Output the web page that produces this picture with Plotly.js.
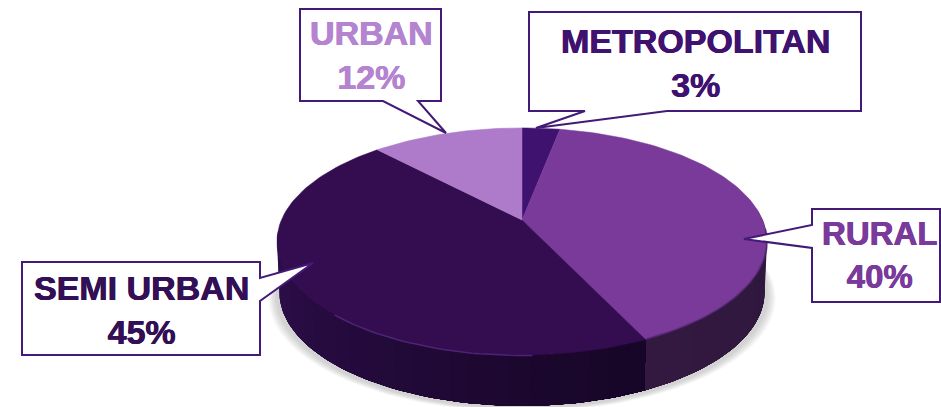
<!DOCTYPE html>
<html>
<head>
<meta charset="utf-8">
<script src="https://cdn.plot.ly/plotly-3.0.1.min.js"></script>
<style>html,body{margin:0;padding:0;background:#fff;overflow:hidden}#chart{width:941px;height:407px}</style>
</head>
<body>
<div id="chart"></div>
<script>
// Data (clockwise from 12 o'clock)
const categories = ['METROPOLITAN', 'RURAL', 'SEMI URBAN', 'URBAN'];
const shares = [3, 40, 45, 12];
const topColors = ['#3f1270', '#7a3a9a', '#330d50', '#ae7bca'];
const textColors = ['#3f1270', '#7a3a9c', '#330f55', '#b584d0'];
const sideFrom = ['#3f1270', '#2e163e', '#2e0e4c', '#8a5aa5'];
const sideTo = ['#3f1270', '#33193f', '#170627', '#8a5aa5'];

// Tilted-disc projection used to place every slice on the hidden axes
const cx = 522, cy = 220, A = 109.5, B = 240.6, k = 0.189, depth = 52;
function project(deg, grow, dy) {
  const t = deg * Math.PI / 180, u = Math.sin(t), v = Math.cos(t), w = 1 + k * v;
  const g = grow || 1;
  return [cx + g * B * u / w, cy - A * v / w + (g - 1) * 113 + (dy || 0)];
}
function arc(a0, a1, grow, dy) {
  const n = Math.max(2, Math.ceil(Math.abs(a1 - a0) / 1.5));
  const p = [];
  for (let i = 0; i <= n; i++) p.push(project(a0 + (a1 - a0) * i / n, grow, dy));
  return p;
}
function poly(points, fill, lineColor, lineWidth) {
  return {
    type: 'scatter', mode: 'lines', fill: 'toself', fillcolor: fill,
    x: points.map(p => p[0]), y: points.map(p => p[1]),
    line: {color: lineColor || fill, width: lineWidth === undefined ? 0.6 : lineWidth},
    hoverinfo: 'skip', showlegend: false
  };
}
function mix(c1, c2, f) {
  const h = c => [1, 3, 5].map(i => parseInt(c.substr(i, 2), 16));
  const a = h(c1), b = h(c2);
  return 'rgb(' + a.map((x, i) => Math.round(x + (b[i] - x) * f)).join(',') + ')';
}

const traces = [];

// Soft ground shadow
for (let i = 0; i < 7; i++) {
  traces.push(poly(arc(0, 360, 1 + 0.005 * (7 - i), depth + 1), 'rgba(120,120,120,0.055)', 'rgba(0,0,0,0)', 0));
}

// Slice boundaries from the shares
let running = 0;
const bounds = shares.map(s => { const b = [running * 3.6, (running + s) * 3.6]; running += s; return b; });

// Side wall, in overlapping strips for shading; each strip runs to the end of the wall
function wall(a0, a1, c0, c1) {
  const strips = Math.max(1, Math.round(Math.abs(a1 - a0) / 4));
  for (let i = 0; i < strips; i++) {
    const s = a0 + (a1 - a0) * i / strips;
    const col = mix(c0, c1, i / Math.max(1, strips - 1));
    traces.push(poly(arc(s, a1).concat(arc(a1, s, 0.99, depth)), col, col, 0));
  }
}
wall(85, bounds[1][1], sideFrom[1], sideTo[1]);
wall(265, bounds[2][0], sideFrom[2], sideTo[2]);

// Top faces
bounds.forEach((b, i) => {
  traces.push(poly([[cx, cy]].concat(arc(b[0], b[1])).concat([[cx, cy]]), topColors[i], topColors[i], 0.5));
});

// Rim highlight on the front of the wall
const rim = arc(222, 178);
traces.push({
  type: 'scatter', mode: 'lines', x: rim.map(p => p[0]), y: rim.map(p => p[1] + 0.5),
  line: {color: 'rgba(92,48,140,0.7)', width: 1.5}, hoverinfo: 'skip', showlegend: false
});
const rimR = arc(bounds[1][1], 95);
traces.push({
  type: 'scatter', mode: 'lines', x: rimR.map(p => p[0]), y: rimR.map(p => p[1]),
  line: {color: 'rgba(60,30,90,0.5)', width: 2}, hoverinfo: 'skip', showlegend: false
});

// Callout boxes
const border = '#431a78';
const calloutPaths = [
  'M529,12 H861 V111 H667 L536,128 L585,111 H529 Z',
  'M812,209 H940 V302 H812 V248 L744,239 L812,225 Z',
  'M22,262 H260 V278 L313,263 L260,301 V355 H22 Z',
  'M300,9 H441 V101 H418 L446,133 L383,101 H300 Z'
];
const shapes = calloutPaths.map(d => ({
  type: 'path', path: d, xref: 'x', yref: 'y', layer: 'above',
  fillcolor: '#ffffff', line: {color: border, width: 2}
}));

// Label centres and sizes
const labelX = [695, 879, 141, 371];
const labelY = [62.5, 255, 309.5, 55];
const labelSize = [34, 33, 34, 34];
const annotations = categories.map((c, i) => ({
  x: labelX[i], y: labelY[i], xref: 'x', yref: 'y',
  text: '<b>' + c + '<br>' + shares[i] + '%</b>',
  showarrow: false, align: 'center', xanchor: 'center', yanchor: 'middle',
  font: {family: '"Liberation Sans", Arial, sans-serif', size: labelSize[i], color: textColors[i],
         shadow: '0.4px 0 0 ' + textColors[i] + ', -0.4px 0 0 ' + textColors[i]}
}));

Plotly.newPlot('chart', traces, {
  width: 941, height: 407,
  margin: {l: 0, r: 0, t: 0, b: 0},
  paper_bgcolor: '#ffffff', plot_bgcolor: '#ffffff',
  showlegend: false, hovermode: false,
  xaxis: {range: [0, 941], visible: false, fixedrange: true},
  yaxis: {range: [407, 0], visible: false, fixedrange: true},
  shapes: shapes, annotations: annotations
}, {displayModeBar: false, staticPlot: true});
</script>
</body>
</html>
